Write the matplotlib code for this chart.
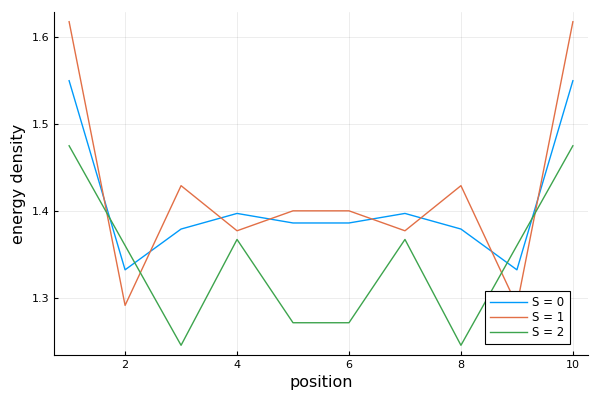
import numpy as np
import matplotlib.pyplot as plt

# energy density per site
position = np.arange(1, 11)
s0 = [1.550, 1.332, 1.379, 1.397, 1.386, 1.386, 1.397, 1.379, 1.332, 1.550]
s1 = [1.618, 1.291, 1.429, 1.377, 1.400, 1.400, 1.377, 1.429, 1.291, 1.618]
s2 = [1.475, 1.360, 1.245, 1.367, 1.271, 1.271, 1.367, 1.245, 1.360, 1.475]

series = [("S = 0", s0, "#009afa"), ("S = 1", s1, "#e26f46"), ("S = 2", s2, "#3da44d")]

fig = plt.figure(figsize=(6, 4), dpi=100)
ax = fig.add_axes([0.09, 0.1125, 0.89, 0.8575])

for label, vals, col in series:
    ax.plot(position, vals, color=col, lw=1.0, label=label)

# 3% padding like Plots.jl
allv = np.concatenate([s0, s1, s2])
xpad = 0.03 * (position.max() - position.min())
ypad = 0.03 * (allv.max() - allv.min())
ax.set_xlim(position.min() - xpad, position.max() + xpad)
ax.set_ylim(allv.min() - ypad, allv.max() + ypad)

ax.set_xticks([2, 4, 6, 8, 10])
ax.set_yticks([1.3, 1.4, 1.5, 1.6])
ax.grid(True, color="black", alpha=0.1, lw=0.5)
ax.spines["top"].set_visible(False)
ax.spines["right"].set_visible(False)
ax.tick_params(direction="in", length=3, labelsize=8)

ax.set_xlabel("position", fontsize=11.5)
ax.set_ylabel("energy density", fontsize=11.5)

leg = ax.legend(loc="lower right", bbox_to_anchor=(0.966, 0.032), fontsize=8.5,
                fancybox=False, framealpha=1, edgecolor="black",
                handlelength=3.1, handletextpad=0.45, borderpad=0.45,
                labelspacing=0.15, borderaxespad=0)
leg.get_frame().set_linewidth(0.8)

fig.savefig("out.png", dpi=100)
